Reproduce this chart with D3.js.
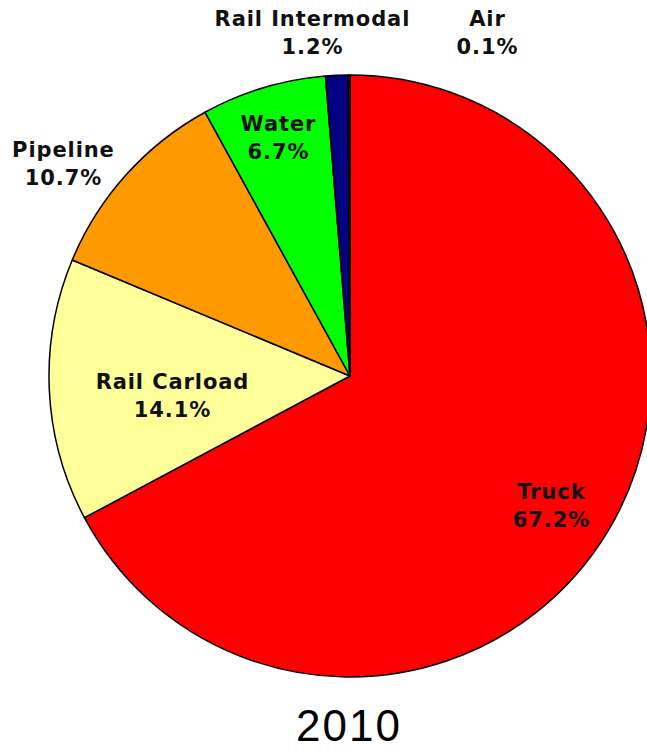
<!DOCTYPE html>
<html>
<head>
<meta charset="utf-8">
<script src="https://cdn.jsdelivr.net/npm/d3@7"></script>
<style>
  html, body { margin: 0; padding: 0; background: #fff; }
  svg { display: block; }
</style>
</head>
<body>
<svg id="chart" width="647" height="751"></svg>
<script>
// Data
const categories = ["Truck", "Rail Carload", "Pipeline", "Water", "Rail Intermodal", "Air"];
const shares = [67.2, 14.1, 10.7, 6.7, 1.2, 0.1];
const shareLabels = ["67.2%", "14.1%", "10.7%", "6.7%", "1.2%", "0.1%"];
const colors = ["#FF0000", "#FFFF99", "#FF9900", "#00FF00", "#000080", "#3333CC"];
const title = "2010";

// Layout (label anchor points, first-line baseline)
const labelPos = [
  [551, 499], [172, 389], [63, 157], [278, 131], [312, 26], [487, 26]
];

const svg = d3.select("#chart");
const cx = 350, cy = 376, r = 301;

const data = categories.map((c, i) => ({ name: c, value: shares[i], label: shareLabels[i], color: colors[i] }));

const pie = d3.pie().sort(null).value(d => d.value).startAngle(0).endAngle(2 * Math.PI);
const arc = d3.arc().innerRadius(0).outerRadius(r);

const g = svg.append("g").attr("transform", `translate(${cx},${cy})`);
g.selectAll("path.slice")
  .data(pie(data))
  .join("path")
  .attr("class", "slice")
  .attr("d", arc)
  .attr("fill", d => d.data.color)
  .attr("stroke", "#000")
  .attr("stroke-width", 1.5)
  .attr("stroke-linejoin", "round");

const ls = 0.9;
const labels = svg.append("g")
  .attr("font-family", "'DejaVu Sans', Verdana, sans-serif")
  .attr("font-weight", "bold")
  .attr("font-size", 21)
  .attr("letter-spacing", ls)
  .attr("fill", "#111")
  .attr("text-anchor", "middle");

data.forEach((d, i) => {
  const x = labelPos[i][0] + ls / 2, y = labelPos[i][1];
  const t = labels.append("text").attr("x", x).attr("y", y);
  t.append("tspan").attr("x", x).attr("y", y).text(d.name);
  t.append("tspan").attr("x", x).attr("y", y + 27.5).text(d.label);
});

svg.append("text")
  .attr("x", 349)
  .attr("y", 741)
  .attr("text-anchor", "middle")
  .attr("font-family", "'Liberation Sans', Arial, sans-serif")
  .attr("font-size", 44)
  .attr("letter-spacing", 2)
  .attr("fill", "#000")
  .text(title);
</script>
</body>
</html>
